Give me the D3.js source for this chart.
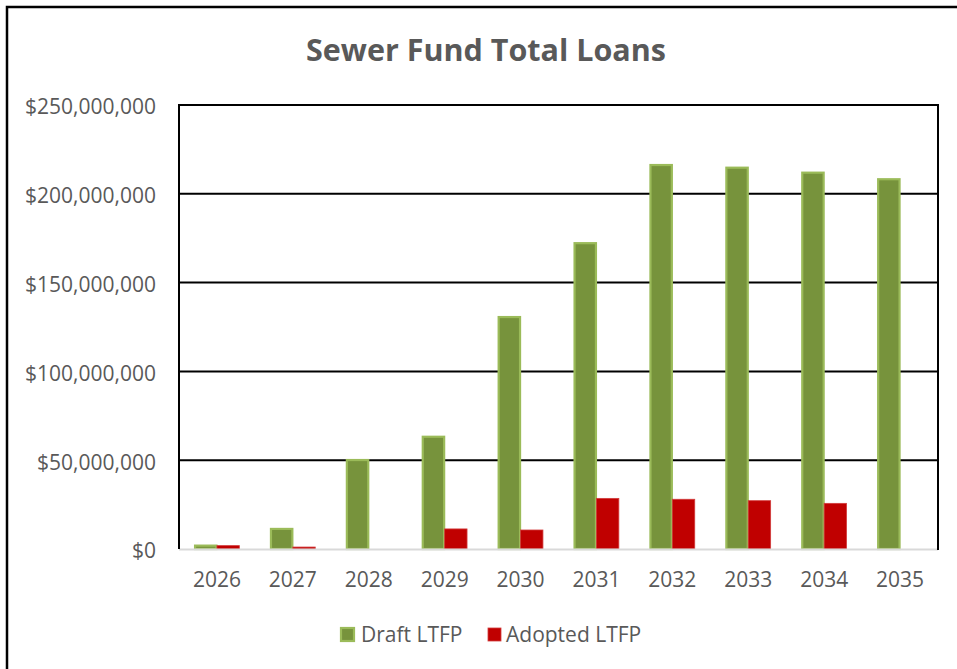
<!DOCTYPE html>
<html>
<head>
<meta charset="utf-8">
<script src="https://cdn.jsdelivr.net/npm/d3@7"></script>
<style>
  html, body { margin: 0; padding: 0; background: #fff; }
  svg { display: block; }
  text { font-family: "Open Sans", "DejaVu Sans", sans-serif; }
</style>
</head>
<body>
<svg id="chart" width="957" height="669"></svg>
<script>
// Sewer Fund total loans by year, draft vs adopted long-term financial plan
const years = ["2026", "2027", "2028", "2029", "2030", "2031", "2032", "2033", "2034", "2035"];
const seriesNames = ["Draft LTFP", "Adopted LTFP"];
const draftLTFP = [1.9e6, 11.3e6, 50.1e6, 63.2e6, 130.6e6, 172.2e6, 216.2e6, 214.7e6, 211.9e6, 208.2e6];
const adoptedLTFP = [1.9e6, 1.1e6, 0, 11.3e6, 10.7e6, 28.5e6, 28.0e6, 27.2e6, 25.7e6, 0];
const yTicks = [0, 50e6, 100e6, 150e6, 200e6, 250e6];
const chartTitle = "Sewer Fund Total Loans";

const fills = { "Draft LTFP": "#77933C", "Adopted LTFP": "#C00000" };
const strokes = { "Draft LTFP": "#9BBB59", "Adopted LTFP": "#D23B3B" };
const textColor = "#595959";

const svg = d3.select("#chart");
const plot = { left: 179, right: 938, top: 105, bottom: 549 };

// outer chart frame
svg.append("path")
  .attr("d", "M7,669 V7 H957")
  .attr("fill", "none")
  .attr("stroke", "#000")
  .attr("stroke-width", 2.5);

// title
svg.append("text")
  .attr("x", 486).attr("y", 61)
  .attr("text-anchor", "middle")
  .attr("font-size", 30.5).attr("font-weight", "bold")
  .attr("fill", textColor)
  .text(chartTitle);

const x = d3.scaleBand()
  .domain(years)
  .range([plot.left, plot.right])
  .paddingInner(0.41)
  .paddingOuter(0.205);

const xSeries = d3.scaleBand()
  .domain(seriesNames)
  .range([0, x.bandwidth()]);

const y = d3.scaleLinear()
  .domain([0, 250e6])
  .range([plot.bottom, plot.top]);

// horizontal gridlines
svg.append("g")
  .selectAll("line")
  .data(yTicks.filter(d => d > 0))
  .join("line")
  .attr("x1", plot.left).attr("x2", plot.right)
  .attr("y1", d => y(d)).attr("y2", d => y(d))
  .attr("stroke", "#000").attr("stroke-width", 2);

// y-axis labels
const yAxis = svg.append("g")
  .attr("transform", `translate(${plot.left},0)`)
  .call(d3.axisLeft(y).tickValues(yTicks).tickFormat(d3.format("$,")).tickSize(0).tickPadding(23));
yAxis.select(".domain").remove();
yAxis.selectAll("text")
  .attr("font-size", 21)
  .attr("font-family", "\"Open Sans\", sans-serif")
  .attr("fill", textColor)
  .attr("dy", "0.42em");

// bars
const rows = years.map((yr, i) => ({ year: yr, values: [
  { name: "Draft LTFP", value: draftLTFP[i] },
  { name: "Adopted LTFP", value: adoptedLTFP[i] }
]}));

const groups = svg.append("g")
  .selectAll("g")
  .data(rows)
  .join("g")
  .attr("transform", d => `translate(${x(d.year)},0)`);

groups.selectAll("rect")
  .data(d => d.values.filter(v => v.value > 0))
  .join("rect")
  .attr("x", d => xSeries(d.name) + (d.name === "Draft LTFP" ? 0.5 : 0))
  .attr("width", d => xSeries.bandwidth() - (d.name === "Draft LTFP" ? 1 : 0))
  .attr("y", d => y(d.value))
  .attr("height", d => y(0) - y(d.value))
  .attr("fill", d => fills[d.name])
  .attr("stroke", d => strokes[d.name])
  .attr("stroke-width", d => d.name === "Draft LTFP" ? 2.2 : 0.8);

// x axis (light baseline) and labels
svg.append("line")
  .attr("x1", plot.left).attr("x2", plot.right)
  .attr("y1", plot.bottom + 0.5).attr("y2", plot.bottom + 0.5)
  .attr("stroke", "#D9D9D9").attr("stroke-width", 2);

const xAxis = svg.append("g")
  .attr("transform", `translate(0,${plot.bottom})`)
  .call(d3.axisBottom(x).tickSize(0).tickPadding(23));
xAxis.select(".domain").remove();
xAxis.selectAll("text")
  .attr("font-size", 21)
  .attr("font-family", "\"Open Sans\", sans-serif")
  .attr("fill", textColor);

// plot area border: left, top, right
svg.append("path")
  .attr("d", `M${plot.left},${plot.bottom} V${plot.top} H${plot.right} V${plot.bottom + 1}`)
  .attr("fill", "none")
  .attr("stroke", "#000")
  .attr("stroke-width", 2);

// legend
const legendItems = [
  { name: "Draft LTFP", x: 340 },
  { name: "Adopted LTFP", x: 488 }
];
const legend = svg.append("g")
  .selectAll("g")
  .data(legendItems)
  .join("g")
  .attr("transform", d => `translate(${d.x},627)`);
legend.append("rect")
  .attr("x", d => d.name === "Draft LTFP" ? 1 : 0)
  .attr("y", 1)
  .attr("width", 13).attr("height", 13)
  .attr("fill", d => fills[d.name])
  .attr("stroke", d => strokes[d.name])
  .attr("stroke-width", d => d.name === "Draft LTFP" ? 2.2 : 0.8);
legend.append("text")
  .attr("x", d => d.name === "Draft LTFP" ? 21 : 18)
  .attr("y", 15)
  .attr("font-size", 21)
  .attr("fill", textColor)
  .text(d => d.name);
</script>
</body>
</html>
